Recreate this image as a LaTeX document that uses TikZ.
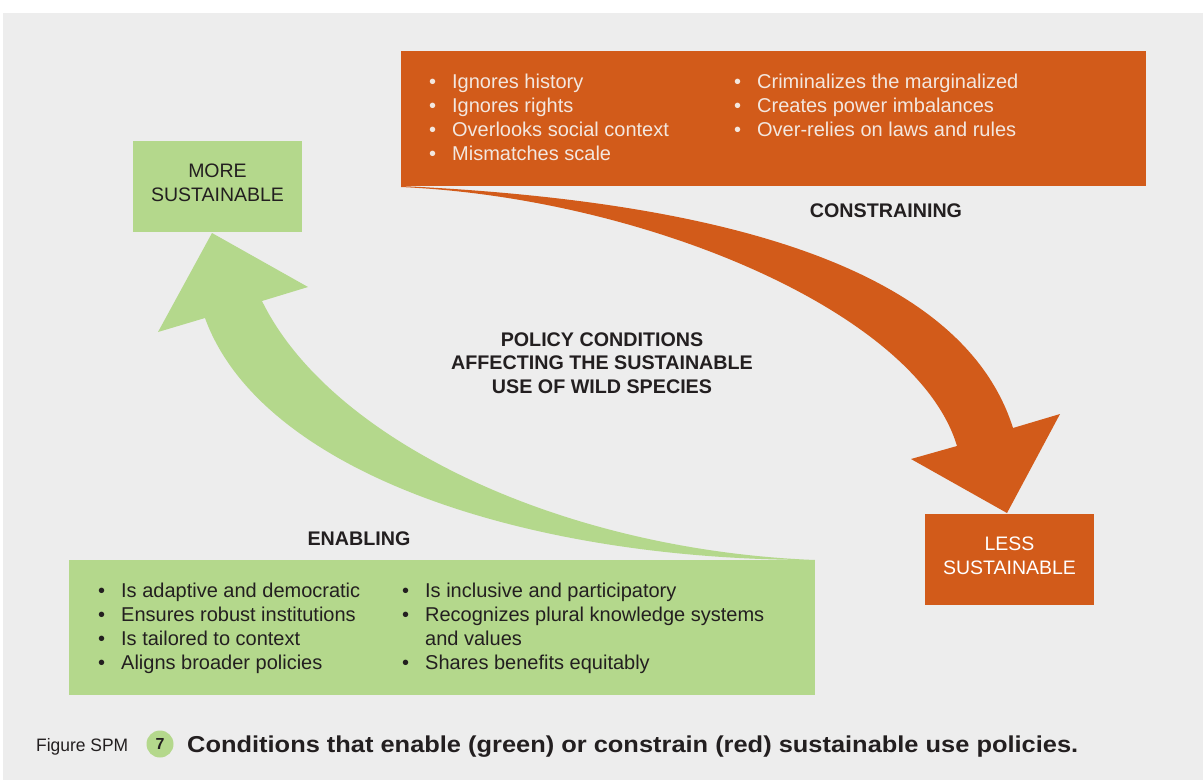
\documentclass[tikz,border=0pt]{standalone}
\usepackage{fontspec}
\setmainfont{Liberation Sans}
\usepackage{graphicx}
\definecolor{bggrey}{HTML}{EDEDED}
\definecolor{rust}{HTML}{D25B1A}
\definecolor{leaf}{HTML}{B4D88C}
\definecolor{ink}{HTML}{231F20}
\definecolor{paletext}{HTML}{F3E7DF}
\tikzset{
  box/.style={inner sep=0pt, outer sep=0pt},
  item/.style={anchor=base west, inner sep=0pt, font=\fontsize{20}{24}\selectfont},
  oitem/.style={item, text=paletext},
  gitem/.style={item, text=ink},
  label/.style={align=center, inner sep=0pt, text=ink, font=\fontsize{19.7}{23.5}\selectfont\bfseries},
}
\newcommand{\bul}{\makebox[23pt][l]{•}}
\begin{document}
\begin{tikzpicture}[x=1pt,y=-1pt]
\useasboundingbox (0,0) rectangle (1203,780);
\fill[white] (0,0) rectangle (1203,780);
\fill[bggrey] (3,13) rectangle (1203,780);

% orange arrow
\coordinate (otail) at (401,186);
\coordinate (otip) at (1007,513);
\fill[rust] (otail) .. controls (700,200) and (960,260) .. (1013,428)
  -- (1060,414) -- (otip) -- (911,459) -- (957,446)
  .. controls (917,312) and (645,198) .. (401,187) -- cycle;

% green arrow
\coordinate (gtail) at (815,560);
\coordinate (gtip) at (212,233);
\fill[leaf] (gtail) .. controls (560,550) and (330,440) .. (262,301)
  -- (308,287) -- (gtip) -- (158,332) -- (205,318)
  .. controls (260,470) and (520,560) .. (gtail) -- cycle;

% boxes
\fill[rust] (401,51) rectangle (1146,186);
\fill[leaf] (69,560) rectangle (815,695);
\node[box, fill=leaf, minimum width=169pt, minimum height=91pt, anchor=north west] (more) at (133,141) {};
\node[box, fill=rust, minimum width=169pt, minimum height=91pt, anchor=north west] (less) at (925,514) {};

\node[align=center, inner sep=0pt, text=ink, font=\fontsize{19.5}{24}\selectfont] (moretxt) at (217.5,183) {MORE\\SUSTAINABLE};
\node[align=center, inner sep=0pt, text=white, font=\fontsize{19.5}{24}\selectfont] (lesstxt) at (1009.5,556) {LESS\\SUSTAINABLE};

% labels
\node[label] (constr) at (886,211) {CONSTRAINING};
\node[label] (enab) at (359,539) {ENABLING};
\node[label] (center) at (602,363) {POLICY CONDITIONS\\AFFECTING THE SUSTAINABLE\\USE OF WILD SPECIES};

% orange items
\node[oitem] (o1) at (429,88) {\bul Ignores history};
\node[oitem] (o2) at (429,112) {\bul Ignores rights};
\node[oitem] (o3) at (429,136) {\bul Overlooks social context};
\node[oitem] (o4) at (429,160) {\bul Mismatches scale};
\node[oitem] (o5) at (734,88) {\bul Criminalizes the marginalized};
\node[oitem] (o6) at (734,112) {\bul Creates power imbalances};
\node[oitem] (o7) at (734,136) {\bul Over-relies on laws and rules};

% green items
\node[gitem] (g1) at (98,597) {\bul Is adaptive and democratic};
\node[gitem] (g2) at (98,621) {\bul Ensures robust institutions};
\node[gitem] (g3) at (98,645) {\bul Is tailored to context};
\node[gitem] (g4) at (98,669) {\bul Aligns broader policies};
\node[gitem] (g5) at (402,597) {\bul Is inclusive and participatory};
\node[gitem] (g6) at (402,621) {\bul Recognizes plural knowledge systems};
\node[gitem] (g7) at (402,645) {\hspace*{23pt}and values};
\node[gitem] (g8) at (402,669) {\bul Shares benefits equitably};

% caption
\node[anchor=base west, inner sep=0pt, text=ink, font=\fontsize{18}{20}\selectfont] (figlbl) at (36,751) {\resizebox{92pt}{\height}{Figure SPM}};
\node[circle, fill=leaf, minimum size=27pt, inner sep=0pt, text=ink, font=\fontsize{16}{18}\selectfont\bfseries] (num) at (160,744) {7};
\node[anchor=base west, inner sep=0pt, text=ink, font=\fontsize{23}{26}\selectfont\bfseries] (caption) at (187,752) {\resizebox{891pt}{\height}{Conditions that enable (green) or constrain (red) sustainable use policies.}};
\end{tikzpicture}
\end{document}
